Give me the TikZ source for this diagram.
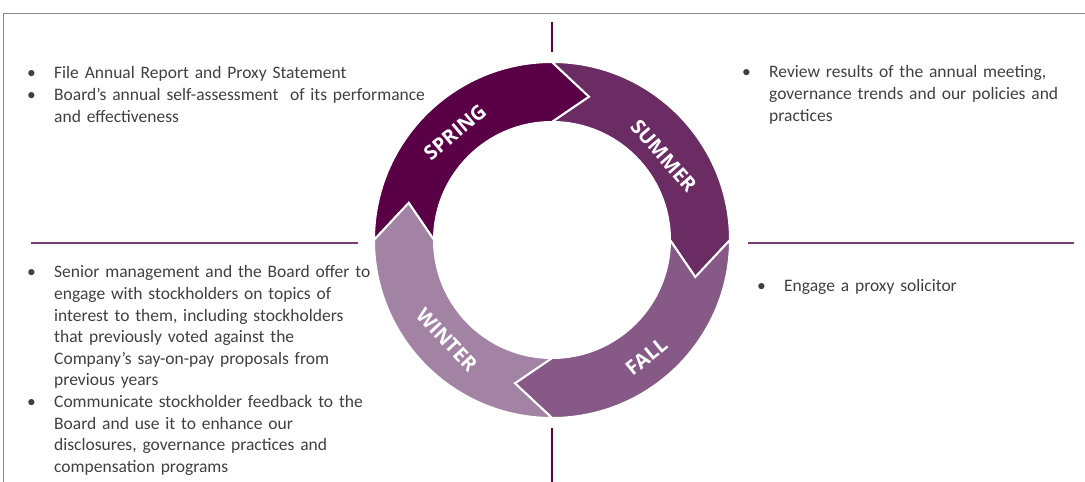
\documentclass[tikz,border=0pt]{standalone}
\usepackage{fontspec}
\setmainfont{Carlito}
\newfontfamily\labelfont{Open Sans}
\definecolor{spring}{RGB}{90,0,71}
\definecolor{summer}{RGB}{107,43,99}
\definecolor{fall}{RGB}{135,89,135}
\definecolor{winter}{RGB}{163,131,163}
\definecolor{textgray}{RGB}{64,64,64}
\definecolor{rule}{RGB}{122,58,120}
\definecolor{framegray}{RGB}{136,136,136}
\usetikzlibrary{positioning,calc}
% bullet item with hanging indent
\newcommand\cstitem[1]{\noindent\hangindent=27pt\hangafter=1\makebox[27pt][l]{\textbullet}#1\par}
\tikzset{
  % lines
	cstframe/.style ={framegray, line width=1.2pt},
	cstrule/.style  ={rule, line width=1.2pt},        % horizontal rule
	cstvrule/.style ={spring, line width=1.2pt},      % vertical rule
  % ring
	cstseg/.style   ={draw=white, line width=2pt, line join=miter},
	cstlabel/.style ={text=white, inner sep=0, font=\labelfont\bfseries\fontsize{20}{20}\selectfont},
  % text
	csttext/.style  ={anchor=base west, inner sep=0, align=left, text=textgray,
	                  font=\fontsize{17.5}{21.6}\selectfont}
}
\begin{document}
\begin{tikzpicture}[x=1pt,y=1pt]
	\useasboundingbox (0,0) rectangle (1085,482);
	\draw[cstframe] (1085,468.5) -- (3.5,468.5) -- (3.5,0);
	\coordinate (O) at (552,242);
	% rules
	\draw[cstrule] (31,239) -- (358,239);
	\draw[cstrule] (748,239) -- (1074,239);
	\draw[cstvrule] (552,460) -- (552,430);
	\draw[cstvrule] (552,54) -- (552,0);
	% seasons
	\begin{scope}[shift={(O)}]
		\foreach \a/\c in {180/spring,90/summer,0/fall,-90/winter}
			\filldraw[cstseg,fill=\c] (\a:178) arc[start angle=\a, delta angle=-90, radius=178]
				-- (\a-104.5:148) -- (\a-90:118) arc[start angle=\a-90, delta angle=90, radius=118]
				-- (\a-14.5:148) -- cycle;
		\foreach \t/\p/\r in {SPRING/132:145/40, SUMMER/37:140/-49, FALL/-51:150/39, WINTER/-136.5:145/-47}
			\node[cstlabel,rotate=\r] (\t) at (\p) {\t};
	\end{scope}
	% notes
	\node[csttext,text width=440pt] (springtxt) at (27,403)
		{\cstitem{File Annual Report and Proxy Statement}%
		 \cstitem{Board’s annual self-assessment\ \ of its performance\newline and effectiveness}};
	\node[csttext,text width=330pt] (summertxt) at (742,404)
		{\cstitem{Review results of the annual meeting,\newline governance trends and our policies and\newline practices}};
	\node[csttext,text width=300pt] (falltxt) at (757,190)
		{\cstitem{Engage a proxy solicitor}};
	\node[csttext,text width=380pt] (wintertxt) at (27,204)
		{\cstitem{Senior management and the Board offer to\newline engage with stockholders on topics of\newline interest to them, including stockholders\newline that previously voted against the\newline Company’s say-on-pay proposals from\newline previous years}%
		 \cstitem{Communicate stockholder feedback to the\newline Board and use it to enhance our\newline disclosures, governance practices and\newline compensation programs}};
\end{tikzpicture}
\end{document}
